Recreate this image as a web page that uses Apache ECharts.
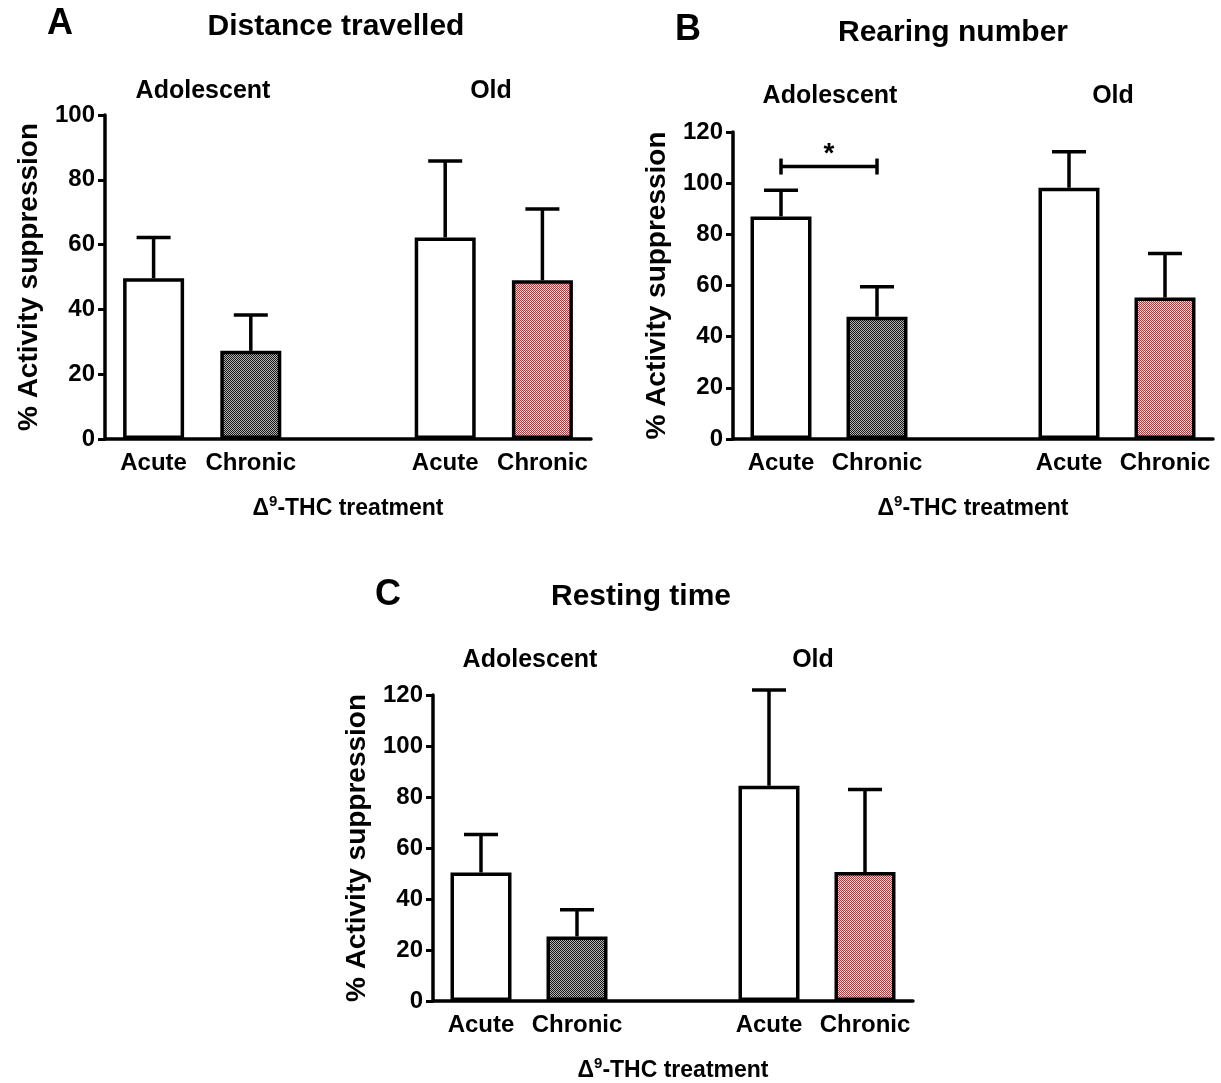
<!DOCTYPE html>
<html><head><meta charset="utf-8">
<script src="https://cdn.jsdelivr.net/npm/echarts@6/dist/echarts.min.js"></script>
<style>html,body{margin:0;padding:0;background:#fff}#c{width:1221px;height:1083px}</style>
</head><body><div id="c"></div>
<script>
// ---- data ----
const categories = ['Acute', 'Chronic', '', 'Acute', 'Chronic'];
const fillKinds = ['white', 'gray', null, 'white', 'red'];
const distanceMean = [49.6, 27.2, null, 62.2, 49.0];
const distanceErr  = [62.2, 38.3, null, 85.8, 71.0];
const rearingMean  = [87.0, 47.8, null, 98.2, 55.3];
const rearingErr   = [97.2, 59.5, null, 112.3, 72.5];
const restingMean  = [50.4, 25.3, null, 84.4, 50.6];
const restingErr   = [65.3, 35.8, null, 122.0, 82.9];
const rearingSig   = [0, 1, 106.5]; // bracket from cat 0 to cat 1 at this value
const yMaxA = 100, yMaxB = 120, yMaxC = 120, yInterval = 20;
const panelLetters = ['A', 'B', 'C'];
const panelTitles = ['Distance travelled', 'Rearing number', 'Resting time'];
const groupLabels = ['Adolescent', 'Old'];
const yName = '% Activity suppression';

const FF = "'Liberation Sans', Arial, Helvetica, sans-serif";

function pattern(c1, c2) {
  const cv = document.createElement('canvas');
  cv.width = 2; cv.height = 2;
  const ctx = cv.getContext('2d');
  ctx.fillStyle = c2; ctx.fillRect(0, 0, 2, 2);
  ctx.fillStyle = c1; ctx.fillRect(0, 0, 1, 1); ctx.fillRect(1, 1, 1, 1);
  return { image: cv, repeat: 'repeat' };
}
const fills = {
  white: '#ffffff',
  gray: pattern('#141414', '#b5b5b5'),
  red: pattern('#e0262a', '#fadcdc')
};

const grids = [
  { left: 105, top: 115, width: 486, height: 324 },
  { left: 733, top: 132, width: 480, height: 307 },
  { left: 433, top: 695, width: 480, height: 307 }
];
const yMaxes = [yMaxA, yMaxB, yMaxC];
const means = [distanceMean, rearingMean, restingMean];
const errs = [distanceErr, rearingErr, restingErr];

const xAxes = grids.map((g, i) => ({
  gridIndex: i, type: 'category', data: categories,
  axisLine: { lineStyle: { color: '#000', width: 3.5 } },
  axisTick: { alignWithLabel: true, length: 8, lineStyle: { color: '#000', width: 3 },
    interval: (idx, val) => val !== '' },
  axisLabel: { interval: 0, margin: 12, color: '#000', fontSize: 24, fontWeight: 'bold', fontFamily: FF },
  name: '{d|\u0394}{s|9}{t|-THC treatment}',
  nameLocation: 'middle', nameGap: 55,
  nameTextStyle: {
    rich: {
      d: { fontSize: 23, fontWeight: 'bold', fontFamily: FF, color: '#000', lineHeight: 26, verticalAlign: 'bottom' },
      s: { fontSize: 15, fontWeight: 'bold', fontFamily: FF, color: '#000', lineHeight: 15, verticalAlign: 'top' },
      t: { fontSize: 23, fontWeight: 'bold', fontFamily: FF, color: '#000', lineHeight: 26, verticalAlign: 'bottom' }
    }
  }
}));

const yAxes = grids.map((g, i) => ({
  gridIndex: i, type: 'value', min: 0, max: yMaxes[i], interval: yInterval,
  axisLine: { show: true, lineStyle: { color: '#000', width: 3.5 } },
  axisTick: { show: true, length: 7, lineStyle: { color: '#000', width: 3 } },
  axisLabel: { margin: 10, color: '#000', fontSize: 24, fontWeight: 'bold', fontFamily: FF },
  splitLine: { show: false },
  name: yName, nameLocation: 'middle', nameGap: 62,
  nameTextStyle: { color: '#000', fontSize: 28, fontWeight: 'bold', fontFamily: FF }
}));

const series = [];
grids.forEach((g, i) => {
  series.push({
    type: 'bar', xAxisIndex: i, yAxisIndex: i, barWidth: 61, silent: true,
    data: means[i].map((v, k) => v == null ? null : ({
      value: v, itemStyle: { color: fills[fillKinds[k]], borderColor: '#000', borderWidth: 3.5 }
    }))
  });
  series.push({
    type: 'custom', xAxisIndex: i, yAxisIndex: i, silent: true, z: 1,
    data: means[i].map((v, k) => v == null ? null : [k, v, errs[i][k]]).filter(d => d),
    renderItem: (params, api) => {
      const x = api.value(0);
      const p0 = api.coord([x, api.value(1)]);
      const p1 = api.coord([x, api.value(2)]);
      const st = { stroke: '#000', lineWidth: 3.5 };
      return { type: 'group', children: [
        { type: 'line', shape: { x1: p0[0], y1: p0[1], x2: p1[0], y2: p1[1] }, style: st },
        { type: 'line', shape: { x1: p1[0] - 17, y1: p1[1], x2: p1[0] + 17, y2: p1[1] }, style: st }
      ]};
    }
  });
});
series.push({
  type: 'custom', xAxisIndex: 1, yAxisIndex: 1, silent: true,
  data: [rearingSig],
  renderItem: (params, api) => {
    const a = api.coord([api.value(0), api.value(2)]);
    const b = api.coord([api.value(1), api.value(2)]);
    const st = { stroke: '#000', lineWidth: 3.5 };
    return { type: 'group', children: [
      { type: 'line', shape: { x1: a[0], y1: a[1], x2: b[0], y2: b[1] }, style: st },
      { type: 'line', shape: { x1: a[0], y1: a[1] - 8, x2: a[0], y2: a[1] + 8 }, style: st },
      { type: 'line', shape: { x1: b[0], y1: b[1] - 8, x2: b[0], y2: b[1] + 8 }, style: st },
      { type: 'text', style: { text: '*', x: (a[0] + b[0]) / 2, y: a[1] - 12, align: 'center', verticalAlign: 'middle',
        font: 'bold 28px ' + FF, fill: '#000' } }
    ]};
  }
});

function txt(s, x, y, size) {
  return { type: 'text', x: x, y: y, silent: true,
    style: { text: s, align: 'center', verticalAlign: 'middle', font: 'bold ' + size + 'px ' + FF, fill: '#000' } };
}
const textPos = [
  { L: [60, 24], T: [336, 27], G: [[203, 91], [491, 91]] },
  { L: [688, 30], T: [953, 33], G: [[830, 96], [1113, 96]] },
  { L: [388, 595], T: [641, 597], G: [[530, 660], [813, 660]] }
];
const graphic = [];
textPos.forEach((p, i) => {
  graphic.push(txt(panelLetters[i], p.L[0], p.L[1], 36));
  graphic.push(txt(panelTitles[i], p.T[0], p.T[1], 30));
  graphic.push(txt(groupLabels[0], p.G[0][0], p.G[0][1], 25));
  graphic.push(txt(groupLabels[1], p.G[1][0], p.G[1][1], 25));
});

const chart = echarts.init(document.getElementById('c'), null, { renderer: 'canvas' });
chart.setOption({
  backgroundColor: '#fff', animation: false,
  grid: grids, xAxis: xAxes, yAxis: yAxes, series: series, graphic: graphic
});
</script></body></html>
